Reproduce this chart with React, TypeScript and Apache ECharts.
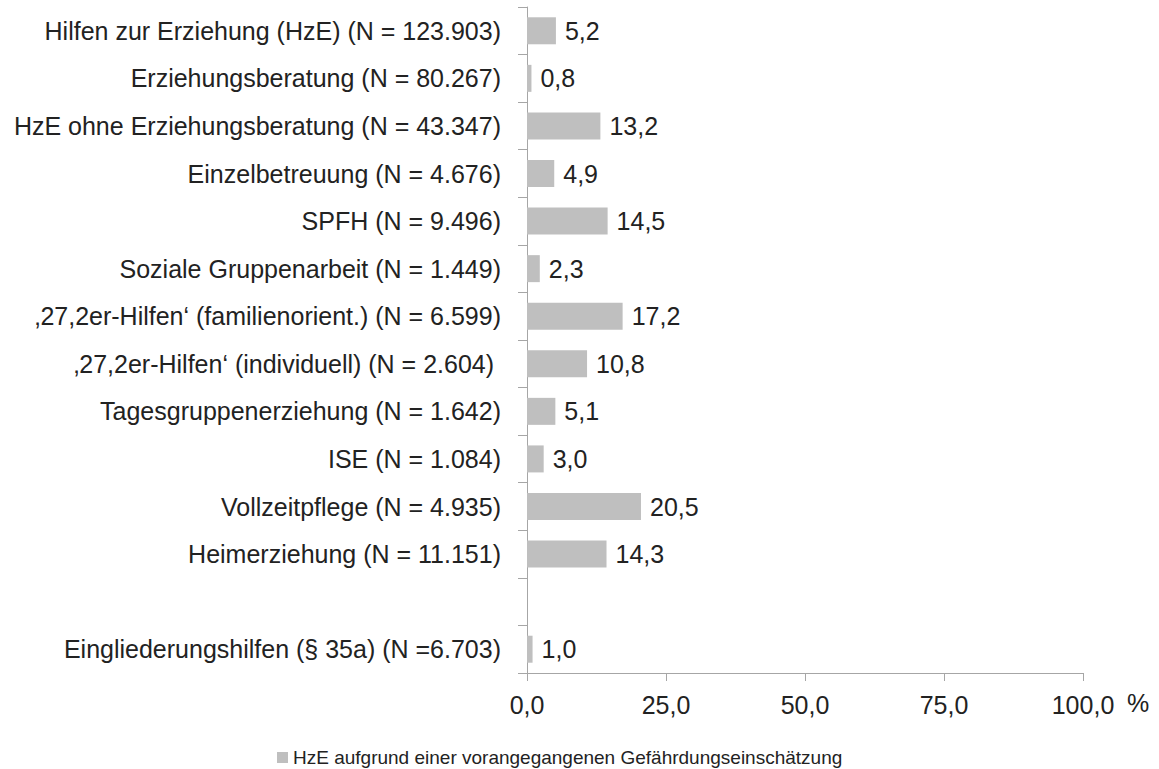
import React, { useEffect, useRef } from "react";
import * as echarts from "echarts";

const categories = [
  "Hilfen zur Erziehung (HzE) (N = 123.903)",
  "Erziehungsberatung (N = 80.267)",
  "HzE ohne Erziehungsberatung (N = 43.347)",
  "Einzelbetreuung (N = 4.676)",
  "SPFH (N = 9.496)",
  "Soziale Gruppenarbeit (N = 1.449)",
  "\u201A27,2er-Hilfen\u2018 (familienorient.) (N = 6.599)",
  "\u201A27,2er-Hilfen\u2018 (individuell) (N = 2.604) ",
  "Tagesgruppenerziehung (N = 1.642)",
  "ISE (N = 1.084)",
  "Vollzeitpflege (N = 4.935)",
  "Heimerziehung (N = 11.151)",
  "",
  "Eingliederungshilfen (§ 35a) (N =6.703)",
];

const values: (number | null)[] = [5.2, 0.8, 13.2, 4.9, 14.5, 2.3, 17.2, 10.8, 5.1, 3.0, 20.5, 14.3, null, 1.0];

const seriesName = "HzE aufgrund einer vorangegangenen Gefährdungseinschätzung";
const xTicks = { min: 0, max: 100, interval: 25 };

const fmt = (v: number) => v.toFixed(1).replace(".", ",");

export default function App() {
  const ref = useRef<HTMLDivElement>(null);
  useEffect(() => {
    if (!ref.current) return;
    const chart = echarts.init(ref.current, undefined, { renderer: "svg" });
    const font = "'Liberation Sans', Arial, sans-serif";
    const txt = "#222222";
    const axisCol = "#a6a6a6";
    chart.setOption({
      animation: false,
      backgroundColor: "#ffffff",
      textStyle: { fontFamily: font },
      grid: { left: 527, right: 76, top: 7, bottom: 96, containLabel: false },
      legend: {
        data: [seriesName],
        left: 277,
        top: 748,
        padding: 0,
        itemWidth: 11,
        itemHeight: 11,
        icon: "rect",
        textStyle: { fontSize: 19, color: txt, fontFamily: font },
      },
      xAxis: {
        type: "value",
        min: xTicks.min,
        max: xTicks.max,
        interval: xTicks.interval,
        axisLine: { show: true, lineStyle: { color: axisCol, width: 1 } },
        axisTick: { show: true, inside: false, length: 8, lineStyle: { color: axisCol } },
        splitLine: { show: false },
        axisLabel: {
          formatter: (v: number) => fmt(v),
          fontSize: 25,
          color: txt,
          margin: 19,
          fontFamily: font,
        },
      },
      yAxis: {
        type: "category",
        data: categories,
        inverse: true,
        axisLine: { show: true, lineStyle: { color: axisCol, width: 1 } },
        axisTick: { show: true, inside: false, length: 9, alignWithLabel: false, lineStyle: { color: axisCol } },
        axisLabel: {
          fontSize: 25,
          color: txt,
          margin: 26,
          fontFamily: font,
          interval: 0,
        },
      },
      graphic: [
        {
          type: "text",
          left: 1127,
          top: 690,
          style: { text: "%", fontSize: 25, fill: txt, fontFamily: font },
        },
      ],
      series: [
        {
          name: seriesName,
          type: "bar",
          data: values,
          barWidth: 27,
          itemStyle: { color: "#bfbfbf" },
          label: {
            show: true,
            position: "right",
            distance: 9,
            fontSize: 25,
            color: txt,
            fontFamily: font,
            formatter: (p: any) => (p.value == null ? "" : fmt(p.value)),
          },
        },
      ],
    });
    return () => chart.dispose();
  }, []);
  return (
    <div
      ref={ref}
      style={{ position: "fixed", left: 0, top: 0, width: 1159, height: 769, background: "#fff" }}
    />
  );
}
